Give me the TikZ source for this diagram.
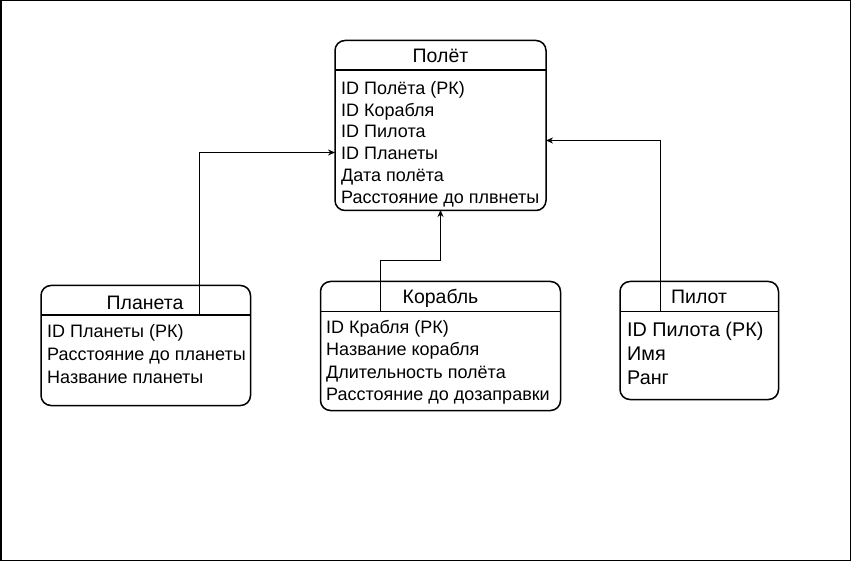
\documentclass[tikz,border=0pt]{standalone}
\usepackage{fontspec}
\setmainfont{Liberation Sans}
\usetikzlibrary{arrows.meta}
\begin{document}
\begin{tikzpicture}[x=1pt,y=-1pt,
  entity/.style={draw=black,line width=1.5pt,rounded corners=10pt,inner sep=0pt,outer sep=0pt,anchor=north west},
  divider/.style={draw=black,line width=1.1pt},
  title/.style={inner sep=0pt,anchor=base,font=\fontsize{19.5}{23}\selectfont},
  row/.style={inner sep=0pt,anchor=base west,font=\fontsize{18}{21}\selectfont},
  bigrow/.style={inner sep=0pt,anchor=base west,font=\fontsize{19.8}{23}\selectfont},
  conn/.style={draw=black,line width=1pt,-{Stealth[length=7pt,width=6pt]}}
]
\useasboundingbox (0,0) rectangle (851,561);
\draw[line width=1.5pt] (0.75,0.75) rectangle (850.25,560.25);

% Полёт
\node[entity,minimum width=211pt,minimum height=170pt] (flight) at (335,40.5) {};
\draw[divider] (flight.west |- 0,70) -- (flight.east |- 0,70);
\node[title] (flightT) at (440.5,63) {Полёт};
\node[row] (f1) at (341,94.5) {ID Полёта (РК)};
\node[row] (f2) at (341,116.5) {ID Корабля};
\node[row] (f3) at (341,137.5) {ID Пилота};
\node[row] (f4) at (341,159.5) {ID Планеты};
\node[row] (f5) at (341,181.5) {Дата полёта};
\node[row] (f6) at (341,203.5) {Расстояние до плвнеты};

% Планета
\node[entity,minimum width=209.5pt,minimum height=120pt] (planet) at (41,285.5) {};
\draw[divider] (planet.west |- 0,315) -- (planet.east |- 0,315);
\node[title] (planetT) at (145,309) {Планета};
\node[row] (p1) at (47,337.5) {ID Планеты (РК)};
\node[row] (p2) at (47,360.5) {Расстояние до планеты};
\node[row] (p3) at (47,383.5) {Название планеты};

% Корабль
\node[entity,minimum width=240pt,minimum height=129pt] (ship) at (320.5,281.5) {};
\draw[divider] (ship.west |- 0,311.5) -- (ship.east |- 0,311.5);
\node[title] (shipT) at (440.5,304) {Корабль};
\node[row] (s1) at (326,333.5) {ID Крабля (РК)};
\node[row] (s2) at (326,355.5) {Название корабля};
\node[row] (s3) at (326,378.5) {Длительность полёта};
\node[row] (s4) at (326,400.5) {Расстояние до дозаправки};

% Пилот
\node[entity,minimum width=158.5pt,minimum height=118pt] (pilot) at (620,281.5) {};
\draw[divider] (pilot.west |- 0,311.5) -- (pilot.east |- 0,311.5);
\node[title] (pilotT) at (699,304) {Пилот};
\node[bigrow] (l1) at (627,336) {ID Пилота (РК)};
\node[bigrow] (l2) at (627,360) {Имя};
\node[bigrow] (l3) at (627,384) {Ранг};

% connectors
\coordinate (cP) at (199,315);
\coordinate (cS) at (380.5,311.5);
\coordinate (cL) at (660,311.5);
\draw[conn] (cP) |- (flight.west |- 0,152.5);
\draw[conn] (cS) |- (440.5,260.5) -- (flight.south |- 0,210);
\draw[conn] (cL) |- (flight.east |- 0,140.5);
\end{tikzpicture}
\end{document}
